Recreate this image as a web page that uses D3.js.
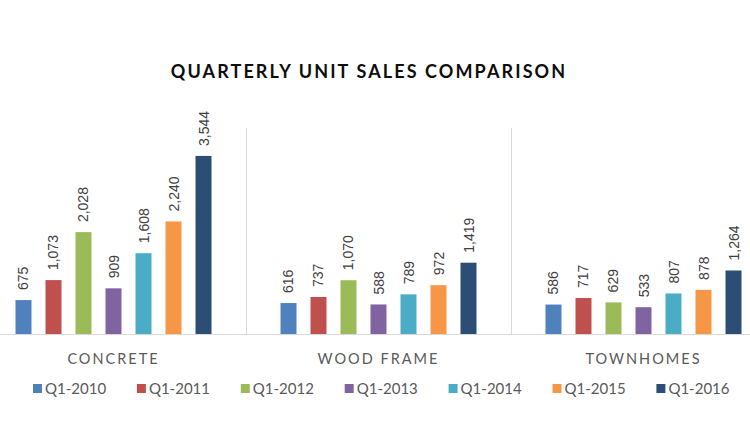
<!DOCTYPE html>
<html>
<head>
<meta charset="utf-8">
<script src="https://cdn.jsdelivr.net/npm/d3@7"></script>
<style>
  body { margin: 0; background: #fff; }
  svg { display: block; font-family: Lato, "Open Sans", sans-serif; }
</style>
</head>
<body>
<svg id="chart" width="750" height="421"></svg>
<script>
const categories = ["CONCRETE", "WOOD FRAME", "TOWNHOMES"];
const series = ["Q1-2010", "Q1-2011", "Q1-2012", "Q1-2013", "Q1-2014", "Q1-2015", "Q1-2016"];
const concrete = [675, 1073, 2028, 909, 1608, 2240, 3544];
const woodFrame = [616, 737, 1070, 588, 789, 972, 1419];
const townhomes = [586, 717, 629, 533, 807, 878, 1264];
const colors = ["#4F81BD", "#C0504D", "#9BBB59", "#8064A2", "#4BACC6", "#F79646", "#2C4D75"];

const values = [concrete, woodFrame, townhomes];

const svg = d3.select("#chart");
const baseY = 334, topY = 128;

const x0 = d3.scaleBand().domain(categories).range([-19, 776]);
const x1 = d3.scaleBand().domain(series).range([0, x0.bandwidth()])
  .paddingInner(0.467).paddingOuter(1.15);
const y = d3.scaleLinear().domain([0, 4100]).range([baseY, topY]);

// title
svg.append("text")
  .attr("x", 369).attr("y", 78)
  .attr("text-anchor", "middle")
  .style("font-size", "18px").style("font-weight", "bold")
  .style("letter-spacing", "2.1px")
  .attr("fill", "#0d0d0d")
  .text("QUARTERLY UNIT SALES COMPARISON");

// category separators
svg.append("g").selectAll("line")
  .data(categories.slice(1))
  .join("line")
  .attr("x1", d => Math.round(x0(d)) + 0.5).attr("x2", d => Math.round(x0(d)) + 0.5)
  .attr("y1", topY).attr("y2", baseY)
  .attr("stroke", "#d9d9d9");

svg.append("line")
  .attr("x1", 0).attr("x2", 750)
  .attr("y1", baseY + 0.5).attr("y2", baseY + 0.5)
  .attr("stroke", "#d9d9d9");

const groups = svg.append("g").selectAll("g")
  .data(categories)
  .join("g")
  .attr("transform", d => `translate(${x0(d)},0)`);

groups.selectAll("rect")
  .data((d, i) => values[i].map((v, j) => ({ s: series[j], v, c: colors[j] })))
  .join("rect")
  .attr("x", d => x1(d.s))
  .attr("width", x1.bandwidth())
  .attr("y", d => y(d.v))
  .attr("height", d => baseY - y(d.v))
  .attr("fill", d => d.c);

groups.selectAll("text.val")
  .data((d, i) => values[i].map((v, j) => ({ s: series[j], v })))
  .join("text")
  .attr("class", "val")
  .attr("transform", d => `translate(${x1(d.s) + x1.bandwidth() / 2 + 5},${y(d.v) - 10}) rotate(-90)`)
  .style("font-family", "'Liberation Sans', Arial, sans-serif")
  .style("font-size", "14px")
  .attr("fill", "#404040")
  .text(d => d3.format(",")(d.v));

// category labels
svg.append("g").selectAll("text")
  .data(categories)
  .join("text")
  .attr("x", d => x0(d) + x0.bandwidth() / 2)
  .attr("y", 364)
  .attr("text-anchor", "middle")
  .style("font-size", "14.5px")
  .style("letter-spacing", "2px")
  .attr("fill", "#595959")
  .text(d => d);

// legend
const legend = svg.append("g").selectAll("g")
  .data(series)
  .join("g")
  .attr("transform", (d, i) => `translate(${33 + i * 103.9},384)`);

legend.append("rect")
  .attr("width", 9).attr("height", 9)
  .attr("fill", (d, i) => colors[i]);

legend.append("text")
  .attr("x", 12).attr("y", 9.5)
  .style("font-size", "15px")
  .attr("fill", "#595959")
  .text(d => d);
</script>
</body>
</html>
